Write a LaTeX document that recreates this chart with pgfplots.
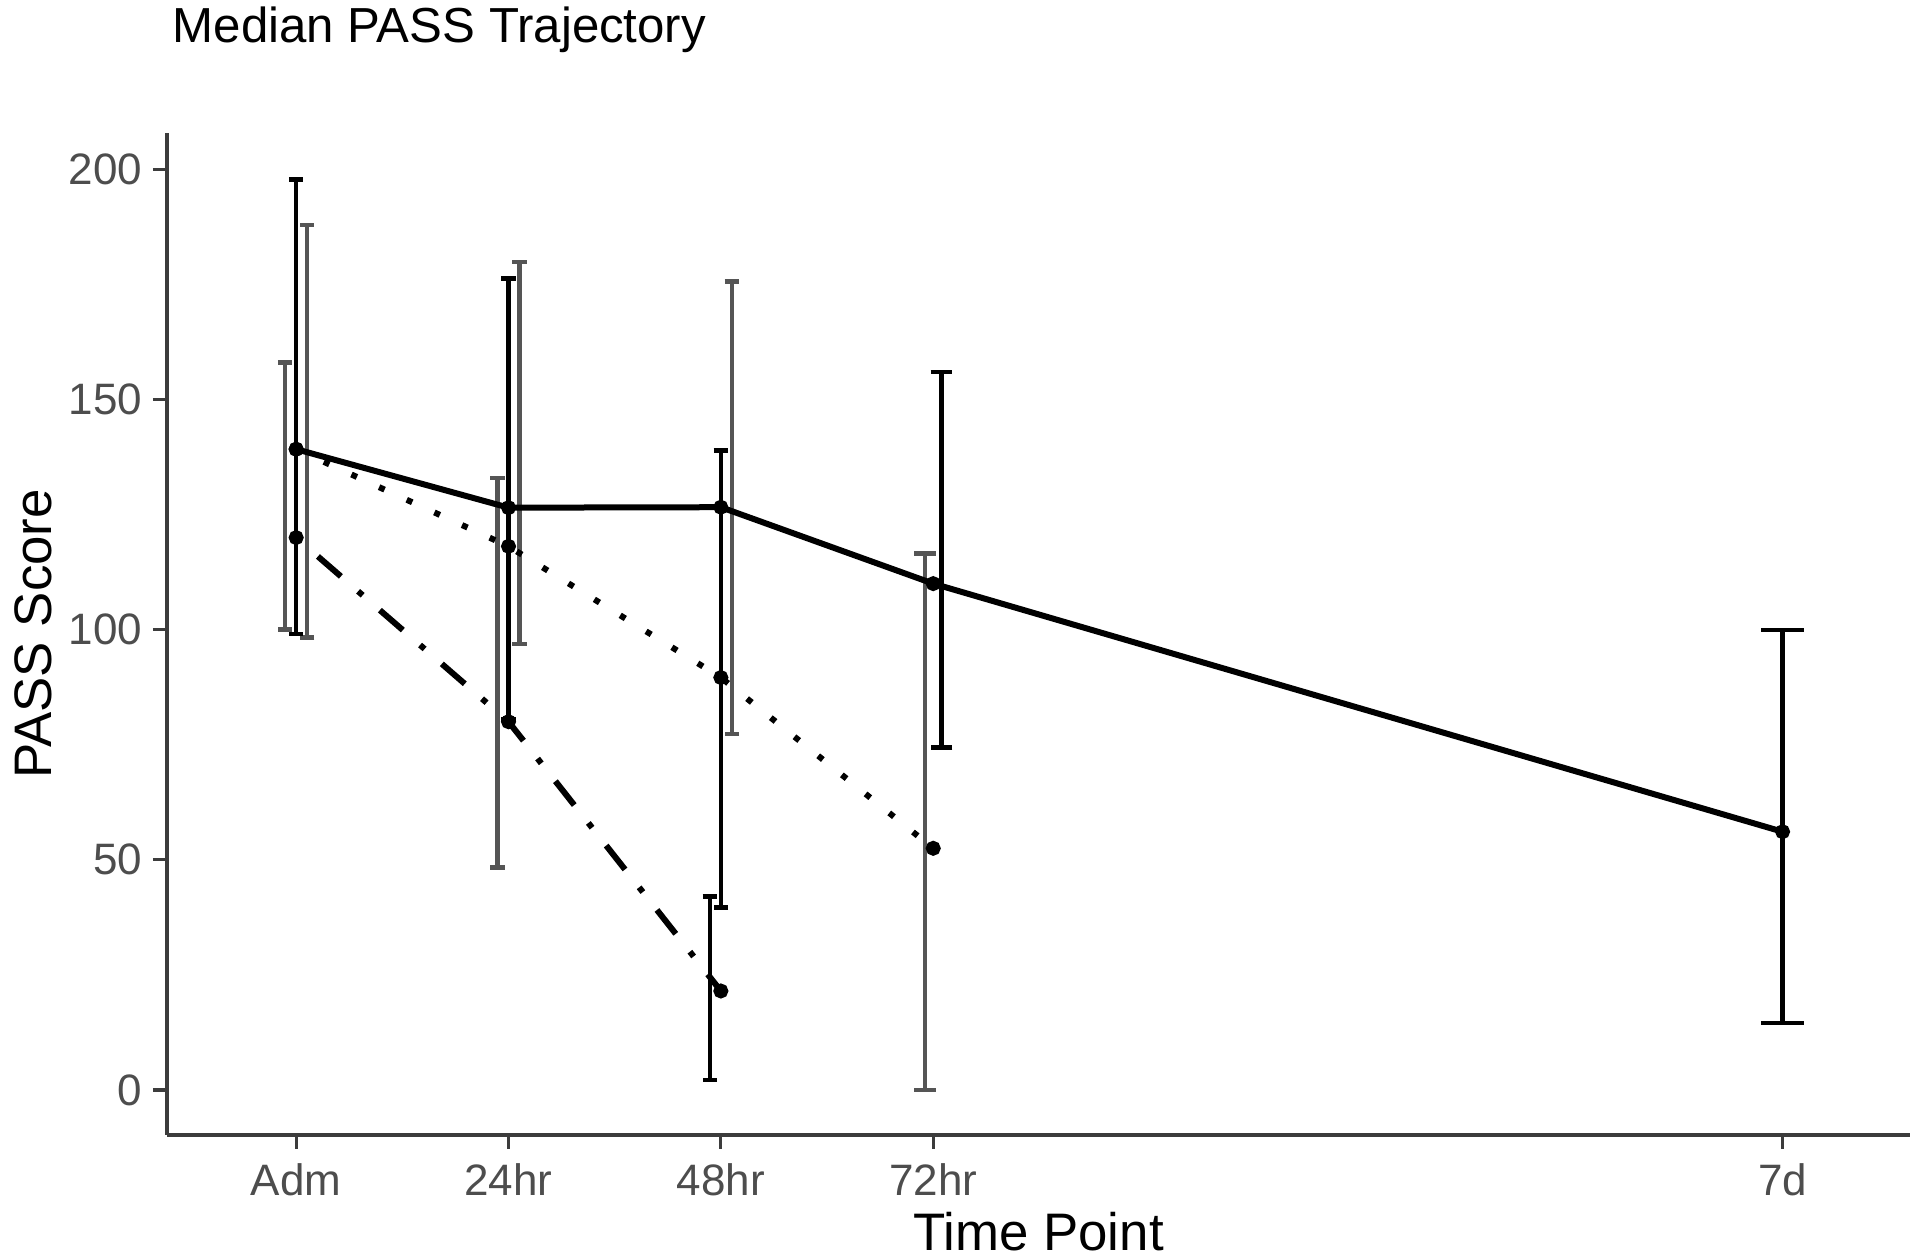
\documentclass[border=0pt]{standalone}
\usepackage{pgfplots}
\pgfplotsset{compat=1.18}
\usepackage{pgfplotstable}
\usepackage{fontspec}
\setmainfont{Liberation Sans}
\definecolor{axisgray}{RGB}{60,60,60}
\definecolor{labgray}{RGB}{77,77,77}
\definecolor{bargray}{RGB}{85,85,85}

\pgfplotstableread{
x y lo hi
-1.25 120 100 158
22.75 80 48.3 133
1.25 139.2 98.3 187.9
25.25 126.5 96.9 179.9
49.25 126.6 77.3 175.6
}\graysmall
\pgfplotstableread{
x y lo hi
46.75 21.5 2.2 42
0 139.2 99 197.8
24 118.1 80.6 176.3
48 89.6 39.6 138.9
}\blacksmall
\pgfplotstableread{
x y lo hi
71.06 52.5 0 116.5
}\graymid
\pgfplotstableread{
x y lo hi
72.94 110 74.4 156
}\blackmid
\pgfplotstableread{
x y lo hi
168 56.1 14.6 99.9
}\blackwide

\pgfplotsset{
  ebar/.style n args={2}{forget plot, draw=none, mark=none,
    error bars/.cd, y dir=both, y explicit, error mark=-,
    error bar style={draw=#1, solid, line width=1.1pt},
    error mark options={rotate=90, draw=#1, solid, line width=1.1pt, mark size=#2}},
}

\begin{document}
\begin{tikzpicture}
\useasboundingbox (-41.75pt,-31pt) rectangle (438.25pt,283.75pt);
\begin{axis}[
  at={(0,0)}, anchor=south west,
  scale only axis, width=435.75pt, height=250.5pt,
  xmin=-14.6, xmax=182.4, ymin=-9.78, ymax=207.9,
  axis x line*=bottom, axis y line*=left,
  axis line style={color=axisgray, line width=0.8pt},
  xtick={0,24,48,72,168},
  xticklabels={Adm,24hr,48hr,72hr,7d},
  ytick={0,50,100,150,200},
  tick align=outside, major tick length=3.5pt,
  tick style={color=axisgray, line width=0.8pt},
  /pgf/number format/assume math mode=true,
  xticklabel style={font=\fontsize{11}{13}\selectfont, color=labgray, inner sep=0pt, anchor=base, yshift=-11.6pt},
  yticklabel style={font=\fontsize{11}{13}\selectfont, color=labgray, inner sep=0pt, anchor=east, xshift=-2.5pt},
  clip=false,
]
\addplot[ebar={bargray}{1.8pt}]
  table[x=x, y=y, y error plus expr=\thisrow{hi}-\thisrow{y}, y error minus expr=\thisrow{y}-\thisrow{lo}] {\graysmall};
\addplot[ebar={black}{1.8pt}]
  table[x=x, y=y, y error plus expr=\thisrow{hi}-\thisrow{y}, y error minus expr=\thisrow{y}-\thisrow{lo}] {\blacksmall};
\addplot[ebar={bargray}{2.7pt}]
  table[x=x, y=y, y error plus expr=\thisrow{hi}-\thisrow{y}, y error minus expr=\thisrow{y}-\thisrow{lo}] {\graymid};
\addplot[ebar={black}{2.7pt}]
  table[x=x, y=y, y error plus expr=\thisrow{hi}-\thisrow{y}, y error minus expr=\thisrow{y}-\thisrow{lo}] {\blackmid};
\addplot[ebar={black}{5.3pt}]
  table[x=x, y=y, y error plus expr=\thisrow{hi}-\thisrow{y}, y error minus expr=\thisrow{y}-\thisrow{lo}] {\blackwide};
% median lines
\addplot[black, line width=1.5pt, mark=*, mark size=1.1pt, mark options={solid}]
  coordinates {(0,139.2) (24,126.5) (48,126.6) (72,110) (168,56.1)};
\addplot[black, line width=1.5pt, dash pattern=on 1.5pt off 6.1pt, mark=*, mark size=1.1pt, mark options={solid}]
  coordinates {(0,139.2) (24,118.1) (48,89.6) (72,52.5)};
\addplot[black, line width=1.5pt, dash pattern=on 1.5pt off 5.7pt on 7.6pt off 5.7pt, mark=*, mark size=1.1pt, mark options={solid}]
  coordinates {(0,120) (24,80) (48,21.5)};
\end{axis}
\node[anchor=base west, inner sep=0pt, font=\fontsize{12.3}{14}\selectfont] at (1.25pt,273pt) {Median PASS Trajectory};
\node[anchor=base, inner sep=0pt, font=\fontsize{13.2}{15}\selectfont] at (217.9pt,-29pt) {Time Point};
\node[anchor=base, inner sep=0pt, rotate=90, font=\fontsize{13.2}{15}\selectfont] at (-28.75pt,125.25pt) {PASS Score};
\end{tikzpicture}
\end{document}
